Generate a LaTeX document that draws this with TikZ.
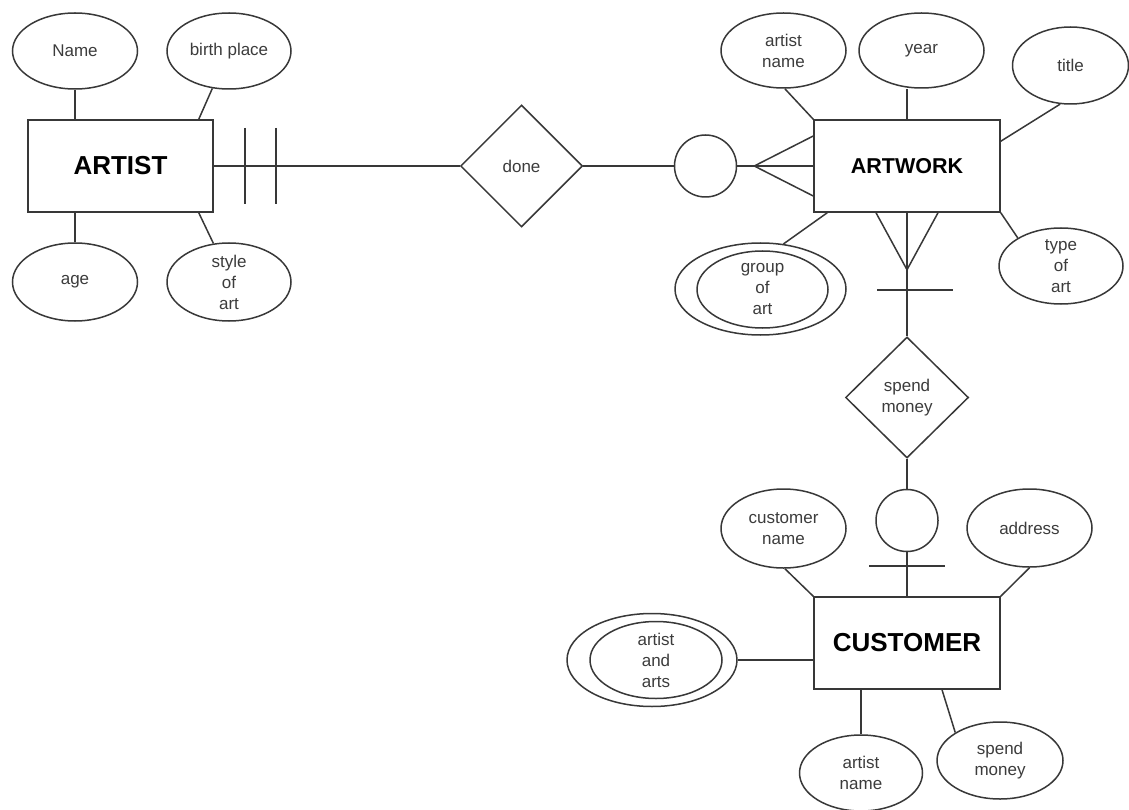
\documentclass[tikz,border=0pt]{standalone}
\usepackage{fontspec}
\setmainfont{Liberation Sans}
\usetikzlibrary{shapes.geometric,calc}
\definecolor{lc}{HTML}{383838}
\definecolor{tc}{HTML}{3C3C3C}
\tikzset{
  attr/.style={ellipse, draw=lc, line width=1.5pt, inner sep=-10pt, text=tc,
    font=\fontsize{17}{21}\selectfont, align=center},
  ent/.style={rectangle, draw=lc, line width=1.5pt, inner sep=0pt, text=black,
    minimum width=186, minimum height=92},
  rel/.style={diamond, draw=lc, line width=1.5pt, inner sep=0pt, text=tc,
    font=\fontsize{17}{21}\selectfont, align=center},
  ring/.style={circle, draw=lc, line width=1.5pt, inner sep=0pt, minimum size=62},
  conn/.style={draw=lc, line width=1.5pt}
}
\begin{document}
\begin{tikzpicture}[x=1pt,y=-1pt]
\useasboundingbox[fill=white] (0,0) rectangle (1129,810);

% ---------- ARTIST ----------
\node[ent, minimum width=185, font=\fontsize{26}{30}\selectfont\bfseries] (artist) at (120.5,166) {ARTIST};
\node[attr, minimum width=125, minimum height=76] (nm) at (75,51) {Name};
\node[attr, minimum width=124, minimum height=76] (bp) at (229,51) {birth place};
\node[attr, minimum width=125, minimum height=78] (age) at (75,282) {age};
\node[attr, minimum width=124, minimum height=78] (sty) at (229,282) {style\\of\\art};

\draw[conn] (nm.south) -- (nm.south |- artist.north);
\draw[conn] (bp.246) -- ($(artist.north east)+(-15,0)$);
\draw[conn] (age.north) -- (age.north |- artist.south);
\draw[conn] (sty.112) -- ($(artist.south east)+(-15,0)$);

% ---------- done ----------
\node[rel, minimum width=122, minimum height=122] (done) at (521.5,166) {done};
\node[ring] (c1) at (705.5,166) {};

\draw[conn] (artist.east) -- (done.west);
\draw[conn] ($(artist.east)+(31,-38)$) -- ($(artist.east)+(31,38)$);
\draw[conn] ($(artist.east)+(62,-38)$) -- ($(artist.east)+(62,38)$);
\draw[conn] (done.east) -- (c1.west);

% ---------- ARTWORK ----------
\node[ent, font=\fontsize{21.5}{26}\selectfont\bfseries] (artwork) at (907,166) {ARTWORK};
\node[attr, minimum width=125, minimum height=75] (an) at (783.5,50.5) {artist\\name};
\node[attr, minimum width=125, minimum height=75] (yr) at (921.5,50.5) {year};
\node[attr, minimum width=116, minimum height=77] (ti) at (1070.5,65.5) {title};
\node[attr, minimum width=124, minimum height=76] (ty) at (1061,266) {type\\of\\art};
\node[attr, minimum width=171, minimum height=92] (grpo) at (760.5,289) {};
\node[attr, minimum width=131, minimum height=77] (grp) at (762.5,289.5) {group\\of\\art};

\draw[conn] (c1.east) -- (artwork.west);
\coordinate (f1) at ($(artwork.west)+(-59,0)$);
\draw[conn] ($(artwork.west)+(0,-30)$) -- (f1) -- ($(artwork.west)+(0,30)$);

\draw[conn] (an.272) -- (artwork.north west);
\draw[conn] (artwork.north) -- (artwork.north |- yr.south);
\draw[conn] (ti.255) -- ($(artwork.north east)+(0,22)$);
\draw[conn] (ty.147) -- (artwork.south east);
\draw[conn] (grpo.63) -- ($(artwork.south west)+(14,0)$);

% ---------- spend money ----------
\node[rel, minimum width=123, minimum height=121] (sp) at (907,397.5) {spend\\money};
\node[ring] (c2) at (907,520.5) {};

\draw[conn] (artwork.south) -- (sp.north);
\coordinate (f2) at ($(artwork.south)+(0,57)$);
\draw[conn] ($(artwork.south)+(-31,0)$) -- (f2) -- ($(artwork.south)+(31,0)$);
\draw[conn] ($(artwork.south)+(-30,77)$) -- ($(artwork.south)+(46,77)$);

% ---------- CUSTOMER ----------
\node[ent, font=\fontsize{26}{30}\selectfont\bfseries] (customer) at (907,643) {CUSTOMER};
\node[attr, minimum width=125, minimum height=79] (cn) at (783.5,528.5) {customer\\name};
\node[attr, minimum width=125, minimum height=78] (ad) at (1029.5,528) {address};
\node[attr, minimum width=170, minimum height=93] (aao) at (652,660) {};
\node[attr, minimum width=132, minimum height=77] (aa) at (656,660) {artist\\and\\arts};
\node[attr, minimum width=123, minimum height=76] (an2) at (861,773) {artist\\name};
\node[attr, minimum width=126, minimum height=77] (sm) at (1000,760.5) {spend\\money};

\draw[conn] (sp.south) -- (c2.north);
\draw[conn] (c2.south) -- (customer.north);
\draw[conn] ($(customer.north)+(-38,-30.5)$) -- ($(customer.north)+(38,-30.5)$);

\draw[conn] (cn.272) -- (customer.north west);
\draw[conn] (ad.south) -- (customer.north east);
\draw[conn] (aao.east) -- (aao.east -| customer.west);
\draw[conn] (an2.north) -- (an2.north |- customer.south);
\draw[conn] (sm.148) -- ($(customer.south)+(35,0)$);
\end{tikzpicture}
\end{document}
